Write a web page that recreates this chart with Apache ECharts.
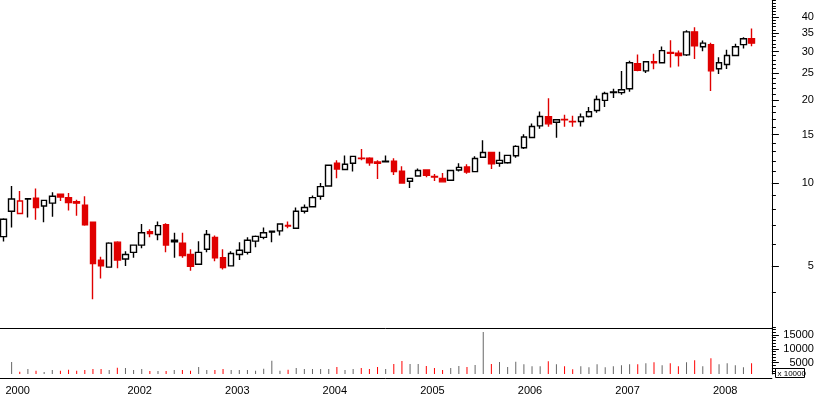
<!DOCTYPE html>
<html><head><meta charset="utf-8">
<script src="https://cdn.jsdelivr.net/npm/echarts@6/dist/echarts.min.js"></script>
<style>html,body{margin:0;padding:0;background:#fff}#c{width:817px;height:395px}</style>
</head><body><div id="c"></div>
<script>
// Monthly categories Oct 2000 .. Aug 2008 (last two months empty)
const categories = (function(){const a=[];let y=2000,m=10;while(a.length<95){a.push(y+'-'+String(m).padStart(2,'0'));m++;if(m>12){m=1;y++;}}return a;})();

const open  = [6.39,7.9,7.75,8.78,8.8,8.25,8.45,9.1,8.85,8.55,8.3,7.2,5.25,4.95,6.1,5.3,5.6,5.95,6.65,6.5,
               7.05,6.2,6.05,5.5,5.07,5.75,6.35,5.35,5.0,5.5,5.6,6.15,6.35,6.68,6.7,7.02,6.85,7.9,8.2,8.95,
               9.75,11.8,11.2,11.8,12.3,12.3,11.92,12.0,12.0,11.05,10.15,10.6,11.15,10.56,10.4,10.23,11.15,11.43,11.0,12.4,
               12.9,11.8,11.85,12.56,13.43,14.63,16.12,17.4,16.62,17.02,16.75,16.72,17.44,18.33,19.95,21.4,21.3,22.0,27.1,25.55,
               27.6,27.35,29.8,29.6,29.2,35.4,31.25,31.8,26.0,26.95,29.05,31.8,33.4];
const high  = [7.45,9.75,9.35,8.78,9.55,8.65,9.25,9.15,9.2,8.7,8.95,7.2,5.4,6.1,6.15,5.65,5.95,7.1,6.8,7.25,
               7.15,6.6,6.6,5.75,6.15,6.75,6.45,5.75,5.65,6.1,6.35,6.45,6.9,6.68,7.1,7.25,8.15,8.35,9.0,10.0,
               11.6,12.1,12.6,12.5,13.3,12.4,12.1,12.6,12.3,11.5,10.45,11.3,11.2,10.78,10.87,11.1,11.8,11.7,12.5,14.3,
               12.95,13.0,12.6,13.7,15.05,16.45,18.2,20.3,17.0,17.7,17.55,17.9,18.9,20.8,21.45,22.0,25.5,27.8,29.3,27.6,
               29.5,31.3,33.0,30.3,35.9,36.8,32.95,32.3,28.6,30.5,32.05,33.8,36.4];
const low   = [6.13,6.9,7.7,7.5,7.35,7.2,7.55,8.6,7.95,7.6,7.0,3.78,4.5,4.95,4.9,5.0,5.35,5.8,6.35,6.2,
               5.6,5.35,5.35,4.8,5.07,5.6,5.2,4.85,4.98,5.25,5.5,5.85,6.25,6.1,6.45,6.85,6.85,7.75,8.15,8.7,
               9.7,10.4,11.15,11.0,12.1,11.55,10.35,11.9,10.7,10.0,9.6,10.6,10.5,10.17,10.1,10.2,11.0,10.8,10.95,12.35,
               11.25,11.45,11.75,12.35,13.3,14.6,15.73,16.0,14.6,16.0,16.0,16.04,17.3,18.0,18.9,20.35,20.9,21.45,25.45,25.1,
               25.9,27.3,26.3,26.5,28.9,28.2,30.1,21.6,24.9,25.95,29.0,30.8,31.4];
const close = [7.39,8.75,8.6,8.74,8.15,8.65,8.95,8.9,8.5,8.45,7.05,5.1,5.0,6.05,5.25,5.5,5.95,6.6,6.55,7.0,
               5.95,6.12,5.45,4.98,5.6,6.5,5.35,4.93,5.55,5.7,6.2,6.4,6.6,6.64,7.1,6.98,7.9,8.15,8.85,9.7,
               11.6,11.25,11.7,12.5,12.26,11.85,11.8,11.95,11.0,10.0,10.4,11.1,10.67,10.52,10.1,11.1,11.4,10.96,12.28,12.9,
               11.75,12.08,12.6,13.58,14.7,16.04,17.44,16.4,16.97,16.95,16.7,17.38,18.15,20.1,21.15,21.3,21.8,27.35,25.65,27.55,
               27.3,30.25,29.6,29.05,35.4,31.5,32.2,25.55,27.35,29.05,31.25,33.4,32.2];
const volume = [null,5230,1730,2710,2090,1620,2350,2090,2450,2090,2350,2710,2710,2350,3180,3070,2350,2710,1990,1990,
               1990,2350,2350,2090,3430,2350,2350,2710,2350,2350,2350,2090,2830,5700,2090,2450,3070,2710,2710,2710,
               2710,3430,2350,2710,3070,2710,3430,2710,4510,5600,4510,4510,3790,3070,2350,3070,3790,3430,4150,16060,
               4510,5230,3430,5340,4400,3680,3680,5490,4400,3680,2600,3680,3320,4400,3320,3680,4040,4400,4400,4770,
               5130,4040,4770,3680,5130,5850,3680,6570,4400,4770,4040,3320,4770];

const priceTickLabels = [5,10,15,20,25,30,35,40];
const priceMinorTicks = [3,4,5,6,7,8,9,10,11,12,13,14,15,16,17,18,19,20,21,22,23,24,25,26,27,28,29,30,31,32,33,34,35,36,37,38,39,40,41,42,43,44,45,46];
const volumeTickLabels = [5000,10000,15000];
const volumeMinorTicks = [1000,2000,3000,4000,5000,6000,7000,8000,9000,10000,11000,12000,13000,14000,15000,16000,17000];

const RED='#e00000', BLACK='#000000', VRED='#ff0000', VGRAY='#666666';
const FONT='Arial, "Liberation Sans", sans-serif';

const candleData = open.map(function(o,i){
  const c = close[i];
  const col = (i>0 && c<close[i-1]) ? RED : BLACK;
  const fill = c>o ? '#ffffff' : col;
  return {value:[o,c,low[i],high[i]], itemStyle:{color:fill,color0:fill,borderColor:col,borderColor0:col}};
});
const volData = volume.map(function(v,i){
  if(v==null) return '-';
  return {value:v, itemStyle:{color:(i>0 && close[i]<close[i-1]) ? VRED : VGRAY}};
});

const isYearStart = function(idx,val){ return idx===0 || String(val).slice(5)==='01'; };

const gl = -0.57, gr = 817-771.9;
const chart = echarts.init(document.getElementById('c'), null, {renderer:'canvas'});
chart.setOption({
  animation:false,
  backgroundColor:'#ffffff',
  grid:[
    {left:gl, right:gr, top:0, height:327, outerBoundsMode:'none'},
    {left:gl, right:gr, top:328, height:46, outerBoundsMode:'none'}
  ],
  xAxis:[
    {type:'category', data:categories, gridIndex:0, show:false, boundaryGap:true},
    {type:'category', data:categories, gridIndex:1, position:'bottom', offset:4, boundaryGap:true,
     axisLine:{lineStyle:{color:'#000',width:1}},
     axisTick:{alignWithLabel:true, length:4, interval:0, lineStyle:{color:'#000'}},
     axisLabel:{show:false}, splitLine:{show:false}},
    {type:'category', data:categories, gridIndex:1, position:'bottom', offset:4, boundaryGap:true,
     axisLine:{show:false},
     axisTick:{alignWithLabel:true, length:16, interval:isYearStart, lineStyle:{color:'#000'}},
     axisLabel:{interval:function(idx,val){return idx===0 || (String(val).slice(5)==='01' && idx>=12);},
       formatter:function(v){return v.slice(0,4);}, align:'left', padding:[0,0,0,2], margin:7,
       color:'#000', fontSize:11, fontFamily:FONT},
     splitLine:{show:false}},
    {type:'category', data:categories, gridIndex:1, position:'top', boundaryGap:true,
     axisLine:{lineStyle:{color:'#000',width:1}}, axisTick:{show:false}, axisLabel:{show:false}}
  ],
  yAxis:[
    {type:'log', gridIndex:0, position:'right', min:3.0, max:46.2, logBase:10,
     axisLine:{show:true, lineStyle:{color:'#000'}},
     axisTick:{show:true, length:4, customValues:priceMinorTicks, lineStyle:{color:'#000'}},
     axisLabel:{show:false}, splitLine:{show:false}, minorTick:{show:false}},
    {type:'log', gridIndex:0, position:'right', min:3.0, max:46.2, logBase:10,
     axisLine:{show:false},
     axisTick:{show:true, length:7, customValues:priceTickLabels, lineStyle:{color:'#000'}},
     axisLabel:{show:true, customValues:priceTickLabels, align:'right', margin:42, color:'#000', fontSize:11, fontFamily:FONT},
     splitLine:{show:false}},
    {type:'value', gridIndex:1, position:'right', min:902, max:17509,
     axisLine:{show:true, lineStyle:{color:'#000'}},
     axisTick:{show:true, length:4, customValues:volumeMinorTicks, lineStyle:{color:'#000'}},
     axisLabel:{show:false}, splitLine:{show:false}},
    {type:'value', gridIndex:1, position:'right', min:902, max:17509,
     axisLine:{show:false},
     axisTick:{show:true, length:7, customValues:volumeTickLabels, lineStyle:{color:'#000'}},
     axisLabel:{show:true, customValues:volumeTickLabels, formatter:function(v){return String(v);},
       align:'right', margin:42, color:'#000', fontSize:11, fontFamily:FONT},
     splitLine:{show:false}}
  ],
  series:[
    {type:'candlestick', xAxisIndex:0, yAxisIndex:0, data:candleData, barWidth:6,
     itemStyle:{borderWidth:1.4}},
    {type:'bar', xAxisIndex:1, yAxisIndex:2, data:volData, barWidth:1, clip:true}
  ],
  graphic:[
    {type:'group', left:775, top:368, children:[
      {type:'rect', shape:{x:0,y:0,width:29,height:9}, style:{fill:'#fff', stroke:'#000', lineWidth:1}},
      {type:'text', x:2, y:1, style:{text:'x 10000', font:'8px '+FONT, fill:'#000'}}
    ]}
  ]
});
</script></body></html>
